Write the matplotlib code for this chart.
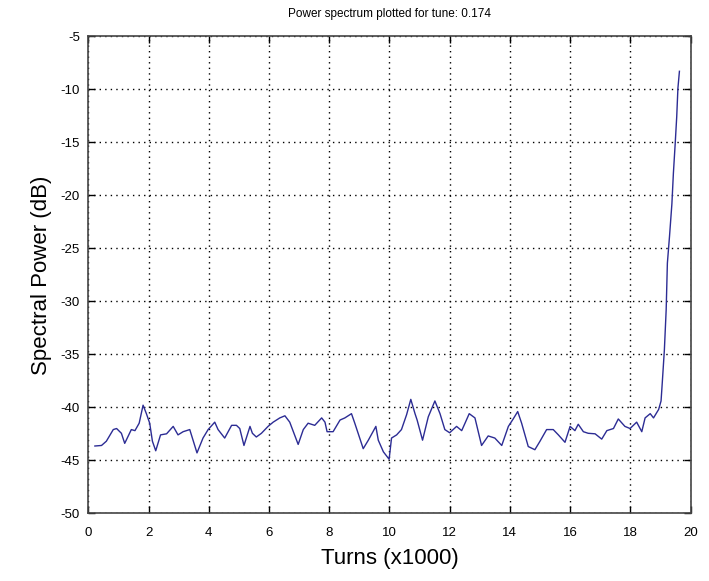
import matplotlib.pyplot as plt

plt.rcParams['font.family'] = ['Liberation Sans', 'DejaVu Sans']
plt.rcParams['axes.unicode_minus'] = False

# Turns (x1000) and spectral power (dB)
turns = [0.22, 0.44, 0.6, 0.83, 0.94, 1.1, 1.21, 1.43, 1.55, 1.69, 1.82, 1.93,
         2.04, 2.13, 2.24, 2.4, 2.6, 2.82, 2.98, 3.15, 3.37, 3.61, 3.81, 3.98,
         4.2, 4.31, 4.53, 4.76, 4.92, 5.03, 5.17, 5.37, 5.45, 5.58, 5.75, 5.97,
         6.14, 6.36, 6.53, 6.69, 6.83, 6.97, 7.14, 7.3, 7.52, 7.75, 7.86, 7.93,
         8.13, 8.36, 8.52, 8.74, 8.85, 9.13, 9.3, 9.55, 9.63, 9.8, 9.99, 10.07,
         10.24, 10.4, 10.57, 10.71, 10.85, 10.92, 11.1, 11.29, 11.51, 11.68,
         11.84, 12.0, 12.23, 12.4, 12.51, 12.65, 12.84, 13.06, 13.28, 13.5,
         13.73, 13.95, 14.11, 14.26, 14.39, 14.61, 14.83, 15.0, 15.22, 15.44,
         15.61, 15.83, 16.0, 16.16, 16.27, 16.44, 16.6, 16.83, 17.05, 17.22,
         17.44, 17.6, 17.82, 17.99, 18.21, 18.38, 18.49, 18.66, 18.77, 18.94,
         19.02, 19.06, 19.13, 19.19, 19.23, 19.3, 19.38, 19.43, 19.49, 19.54,
         19.58, 19.63]
power = [-43.65, -43.6, -43.2, -42.1, -42.0, -42.45, -43.4, -42.1, -42.2, -41.5,
         -39.8, -40.6, -41.5, -43.2, -44.1, -42.6, -42.5, -41.8, -42.6, -42.3,
         -42.1, -44.3, -42.9, -42.1, -41.4, -42.1, -42.9, -41.7, -41.7, -42.0,
         -43.6, -41.8, -42.45, -42.8, -42.45, -41.8, -41.4, -41.0, -40.8, -41.4,
         -42.45, -43.5, -42.1, -41.5, -41.7, -41.0, -41.4, -42.3, -42.3, -41.2,
         -41.0, -40.6, -41.5, -43.9, -43.1, -41.8, -43.1, -44.2, -44.9, -42.9,
         -42.6, -42.1, -40.7, -39.25, -40.6, -41.2, -43.1, -40.9, -39.4, -40.6,
         -42.1, -42.4, -41.8, -42.2, -41.5, -40.6, -41.0, -43.6, -42.7, -42.9,
         -43.6, -41.8, -41.1, -40.4, -41.5, -43.7, -44.0, -43.2, -42.1, -42.1,
         -42.6, -43.3, -41.8, -42.2, -41.6, -42.3, -42.45, -42.5, -43.0, -42.2,
         -42.0, -41.1, -41.8, -42.0, -41.4, -42.3, -41.0, -40.6, -41.0, -40.2,
         -39.4, -37.7, -34.6, -30.8, -26.4, -23.9, -20.8, -17.9, -15.1, -12.6,
         -9.9, -8.3]

xticks = list(range(0, 21, 2))
yticks = list(range(-50, -4, 5))

fig = plt.figure(figsize=(7.09, 5.81), dpi=100)
ax = fig.add_axes([0.1245, 0.1165, 0.8495, 0.821])

ax.plot(turns, power, color='#2c2c94', linewidth=1.0)

ax.set_xlim(0, 20)
ax.set_ylim(-50, -5)
ax.set_xticks(xticks)
ax.set_yticks(yticks)
ax.grid(True, linestyle=(0, (1, 3)), color='black', linewidth=1.0)
ax.tick_params(direction='in', top=True, right=True, length=5, width=1,
               labelsize=9.5)
ax.tick_params(axis='x', pad=10)
ax.tick_params(axis='y', pad=6)
for s in ax.spines.values():
    s.set_color('#444444')
    s.set_linewidth(1.2)

ax.set_title("Power spectrum plotted for tune: 0.174", fontsize=8.5, pad=14)
ax.set_xlabel("Turns (x1000)", fontsize=16, labelpad=6)
ax.set_ylabel("Spectral Power (dB)", fontsize=16, labelpad=6)

plt.savefig("out.png", dpi=100)
